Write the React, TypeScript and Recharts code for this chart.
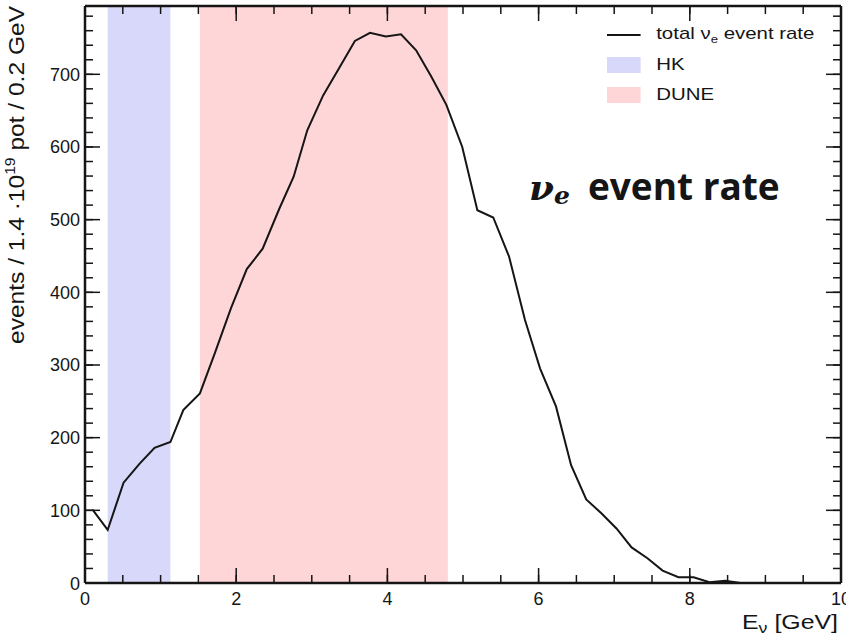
import React from "react";
import { LineChart, Line, XAxis, YAxis, ReferenceArea } from "recharts";

// energy (GeV) and rate
const energies = [
  0.1, 0.3, 0.51, 0.72, 0.92, 1.13, 1.3, 1.52, 1.72, 1.93, 2.14, 2.35, 2.57,
  2.76, 2.94, 3.15, 3.37, 3.57, 3.77, 3.98, 4.18, 4.38, 4.58, 4.78, 4.99, 5.19,
  5.4, 5.61, 5.82, 6.02, 6.23, 6.43, 6.63, 6.83, 7.03, 7.23, 7.44, 7.64, 7.85,
  8.05, 8.26, 8.47, 8.67,
];
const rates = [
  101, 73, 138, 164, 186, 194, 238, 261, 317, 378, 432, 460, 515, 559, 623,
  671, 710, 746, 757, 752, 755, 733, 697, 658, 600, 513, 503, 449, 362, 295,
  243, 162, 115, 96, 75, 49, 34, 17, 8, 8, 1, 3, 0,
];

const hkBand = [0.3, 1.13];
const duneBand = [1.52, 4.8];

const xMajor = [0, 2, 4, 6, 8, 10];
const xMinor = Array.from({ length: 21 }, (_, i) => i * 0.5);
const yMajor = [0, 100, 200, 300, 400, 500, 600, 700];
const yMinor = Array.from({ length: 40 }, (_, i) => i * 20);
const yMax = 794;

const data = energies.map((e, i) => ({ e, rate: rates[i] }));

const FONT = "'Liberation Sans', Arial, sans-serif";
const HK_COLOR = "#d8d8fb";
const DUNE_COLOR = "#ffd6d8";
const INK = "#151515";

const axisLine = { stroke: INK, strokeWidth: 2.5 };
const tickLine = { stroke: INK, strokeWidth: 1.5 };
// recharts drops the tick lines too when tick={false}, so use an empty label
const noLabel = () => <g />;

function BottomLabel(props: any) {
  const { x, y, payload } = props;
  return (
    <text x={x} y={y + 22} textAnchor="middle" fontFamily={FONT} fontSize={18} fill={INK}>
      {payload.value}
    </text>
  );
}

function LeftLabel(props: any) {
  const { x, y, payload } = props;
  return (
    <text x={x - 5} y={y + 6.5} textAnchor="end" fontFamily={FONT} fontSize={18} fill={INK}>
      {payload.value}
    </text>
  );
}

function LegendBox() {
  const row: React.CSSProperties = { display: "flex", alignItems: "center", height: 30 };
  const sw: React.CSSProperties = { width: 28, height: 16, marginRight: 13 };
  return (
    <div
      style={{
        position: "absolute",
        left: 607,
        top: 20,
        fontFamily: FONT,
        fontSize: 17,
        color: INK,
        transform: "scaleX(1.2)",
        transformOrigin: "0 0",
        whiteSpace: "nowrap",
      }}
    >
      <div style={row}>
        <div style={{ ...sw, height: 0, borderTop: `2px solid ${INK}` }} />
        <span>
          total ν<sub style={{ fontSize: 11 }}>e</sub> event rate
        </span>
      </div>
      <div style={row}>
        <div style={{ ...sw, background: HK_COLOR }} />
        <span>HK</span>
      </div>
      <div style={row}>
        <div style={{ ...sw, background: DUNE_COLOR }} />
        <span>DUNE</span>
      </div>
    </div>
  );
}

export default function App() {
  // invisible series so the tick-only axes have something bound to them
  const ghost = (xId: string, yId: string) => (
    <Line
      key={xId + yId}
      xAxisId={xId}
      yAxisId={yId}
      dataKey="rate"
      stroke="none"
      dot={false}
      activeDot={false}
      legendType="none"
      isAnimationActive={false}
    />
  );
  return (
    <div style={{ position: "absolute", left: 0, top: 0, width: 846, height: 638, background: "#fff", overflow: "hidden" }}>
      <LineChart
        width={846}
        height={638}
        data={data}
        margin={{ top: 6, right: 5, left: 0, bottom: 0 }}
      >
        {/* bands first so the tick marks sit on top of them */}
        <ReferenceArea x1={hkBand[0]} x2={hkBand[1]} y1={0} y2={yMax} fill={HK_COLOR} fillOpacity={1} stroke="none" zIndex={-50} />
        <ReferenceArea x1={duneBand[0]} x2={duneBand[1]} y1={0} y2={yMax} fill={DUNE_COLOR} fillOpacity={1} stroke="none" zIndex={-50} />

        {/* bottom: labels + frame, then inward tick marks */}
        <XAxis
          dataKey="e"
          type="number"
          domain={[0, 10]}
          ticks={xMajor}
          interval={0}
          height={55}
          tickSize={0}
          tickMargin={0}
          tickLine={false}
          tick={<BottomLabel />}
          axisLine={axisLine}
        />
        <XAxis xAxisId="bmaj" dataKey="e" type="number" domain={[0, 10]} ticks={xMajor} interval={0}
          mirror height={1} tickSize={15} tick={noLabel} tickLine={tickLine} axisLine={false} />
        <XAxis xAxisId="bmin" dataKey="e" type="number" domain={[0, 10]} ticks={xMinor} interval={0}
          mirror height={1} tickSize={7} tick={noLabel} tickLine={tickLine} axisLine={false} />
        {/* top frame */}
        <XAxis xAxisId="tmaj" dataKey="e" orientation="top" type="number" domain={[0, 10]} ticks={xMajor} interval={0}
          mirror height={1} tickSize={15} tick={noLabel} tickLine={tickLine} axisLine={axisLine} />
        <XAxis xAxisId="tmin" dataKey="e" orientation="top" type="number" domain={[0, 10]} ticks={xMinor} interval={0}
          mirror height={1} tickSize={7} tick={noLabel} tickLine={tickLine} axisLine={false} />
        {/* left: labels + frame, then inward tick marks */}
        <YAxis
          type="number"
          domain={[0, yMax]}
          ticks={yMajor}
          interval={0}
          width={85}
          tickSize={0}
          tickMargin={0}
          tickLine={false}
          tick={<LeftLabel />}
          axisLine={axisLine}
        />
        <YAxis yAxisId="lmaj" type="number" domain={[0, yMax]} ticks={yMajor} interval={0}
          mirror width={1} tickSize={15} tick={noLabel} tickLine={tickLine} axisLine={false} />
        <YAxis yAxisId="lmin" type="number" domain={[0, yMax]} ticks={yMinor} interval={0}
          mirror width={1} tickSize={7} tick={noLabel} tickLine={tickLine} axisLine={false} />
        {/* right frame */}
        <YAxis yAxisId="rmaj" orientation="right" type="number" domain={[0, yMax]} ticks={yMajor} interval={0}
          mirror width={1} tickSize={15} tick={noLabel} tickLine={tickLine} axisLine={axisLine} />
        <YAxis yAxisId="rmin" orientation="right" type="number" domain={[0, yMax]} ticks={yMinor} interval={0}
          mirror width={1} tickSize={7} tick={noLabel} tickLine={tickLine} axisLine={false} />

        {ghost("bmaj", "lmaj")}
        {ghost("bmin", "lmin")}
        {ghost("tmaj", "rmaj")}
        {ghost("tmin", "rmin")}

        <Line
          type="linear"
          dataKey="rate"
          stroke={INK}
          strokeWidth={2}
          dot={false}
          isAnimationActive={false}
        />
        <text
          x={24}
          y={6}
          textAnchor="end"
          transform="rotate(-90, 24, 6)"
          fontFamily={FONT}
          fontSize={22}
          fill={INK}
          textLength={338}
          lengthAdjust="spacingAndGlyphs"
        >
          events / 1.4 ·10
          <tspan fontSize={14} dy={-9}>19</tspan>
          <tspan dy={9}> pot / 0.2 GeV</tspan>
        </text>
        <text
          x={838}
          y={629}
          textAnchor="end"
          fontFamily={FONT}
          fontSize={21}
          fill={INK}
          textLength={96}
          lengthAdjust="spacingAndGlyphs"
        >
          E
          <tspan fontSize={15} dy={4}>ν</tspan>
          <tspan dy={-4}> [GeV]</tspan>
        </text>
      </LineChart>
      <LegendBox />
      <div
        style={{
          position: "absolute",
          left: 529,
          top: 160,
          whiteSpace: "nowrap",
          fontWeight: 700,
          color: INK,
        }}
      >
        <span style={{ fontFamily: "'DejaVu Serif', serif", fontStyle: "italic", fontSize: 36 }}>ν</span>
        <sub style={{ fontFamily: "'DejaVu Serif', serif", fontStyle: "italic", fontSize: 25 }}>e</sub>
        <span style={{ fontFamily: "'Open Sans', sans-serif", fontSize: 37, marginLeft: 18 }}>event rate</span>
      </div>
    </div>
  );
}
